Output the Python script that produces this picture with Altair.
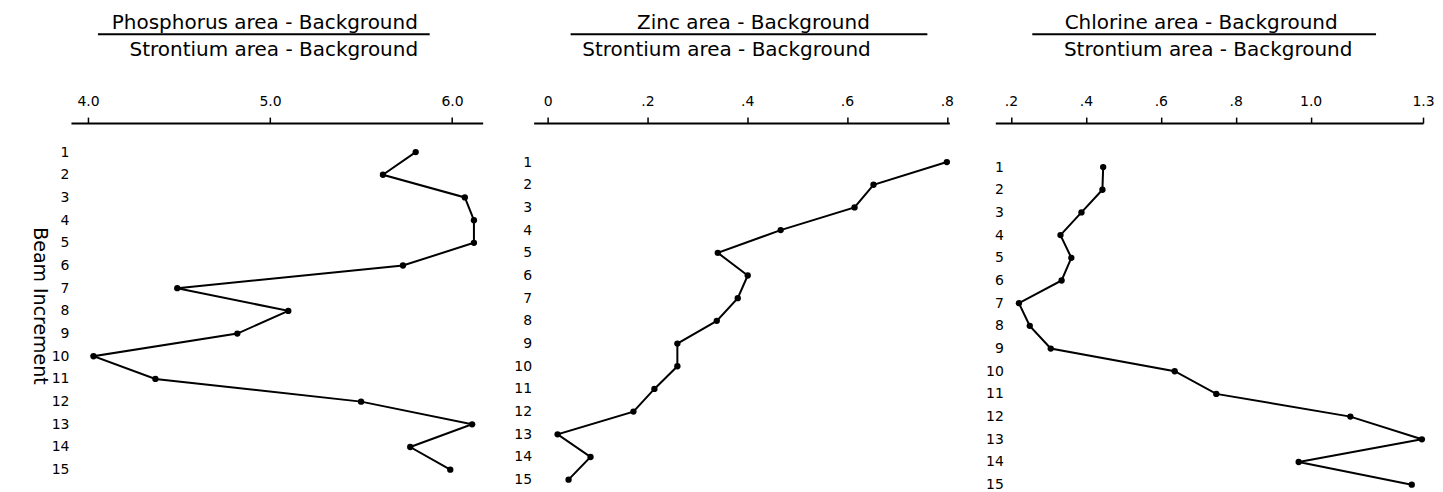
import altair as alt
import pandas as pd

increments = list(range(1, 16))
phosphorus = [5.80, 5.62, 6.07, 6.12, 6.12, 5.73, 4.49, 5.10, 4.82, 4.03, 4.37, 5.50, 6.11, 5.77, 5.99]
zinc = [0.80, 0.653, 0.615, 0.467, 0.341, 0.401, 0.381, 0.339, 0.26, 0.26, 0.214, 0.172, 0.020, 0.086, 0.042]
chlorine = [0.446, 0.444, 0.388, 0.332, 0.361, 0.335, 0.221, 0.250, 0.306, 0.637, 0.748, 1.106, 1.297, 0.968, 1.270]

numerators = ["Phosphorus area - Background", "Zinc area - Background", "Chlorine area - Background"]
denominator = "Strontium area - Background"
x_ticks = [[4.0, 5.0, 6.0], [0, 0.2, 0.4, 0.6, 0.8], [0.2, 0.4, 0.6, 0.8, 1.0, 1.3]]
y_title = "Beam Increment"

TITLE_FONT = "DejaVu Sans"
LABEL_FONT = "DejaVu Sans"
H = 365


def panel(values, num, ticks, xdomain, ydomain, width, label_expr,
          num_x, bar_x, den_x, ytitle, y_offset, y_label_pad):
    df = pd.DataFrame({"inc": increments, "ratio": values})
    yaxis_kw = dict(values=increments, format="d", domain=False, ticks=False, grid=False,
                    labelPadding=y_label_pad, offset=y_offset, labelFontSize=14,
                    labelFont=LABEL_FONT, labelColor="black")
    if ytitle:
        yaxis_kw.update(title=ytitle, titleAngle=90, titleBaseline="top", titleFontSize=19,
                        titleFont=TITLE_FONT, titleFontWeight="normal", titlePadding=3,
                        titleColor="black")
    else:
        yaxis_kw.update(title=None)
    x = alt.X("ratio:Q",
              scale=alt.Scale(domain=xdomain, nice=False, zero=False),
              axis=alt.Axis(orient="top", values=ticks, labelExpr=label_expr, title=None,
                            grid=False, domainWidth=2, domainColor="black", tickColor="black",
                            tickWidth=1.5, tickSize=6, labelPadding=9, labelFlush=False,
                            labelOverlap=False, labelFontSize=14, labelFont=LABEL_FONT,
                            labelColor="black"))
    y = alt.Y("inc:Q", scale=alt.Scale(domain=ydomain, reverse=True, nice=False, zero=False),
              axis=alt.Axis(**yaxis_kw))
    base = alt.Chart(df)
    line = base.mark_line(color="black", strokeWidth=2).encode(x=x, y=y, order="inc:Q")
    pts = base.mark_circle(color="black", size=40, opacity=1).encode(x=x, y=y)

    tdf = pd.DataFrame({"num": [num], "den": [denominator]})
    tb = alt.Chart(tdf)
    num_t = tb.mark_text(font=TITLE_FONT, fontSize=20, color="black", align="center",
                         baseline="middle").encode(text="num:N", x=alt.value(num_x), y=alt.value(-100))
    bar = tb.mark_rule(color="black", strokeWidth=2).encode(
        x=alt.value(bar_x[0]), x2=alt.value(bar_x[1]), y=alt.value(-89))
    den_t = tb.mark_text(font=TITLE_FONT, fontSize=20, color="black", align="center",
                         baseline="middle").encode(text="den:N", x=alt.value(den_x), y=alt.value(-73))
    return alt.layer(line, pts, num_t, bar, den_t).properties(width=width, height=H)


dec_expr = "datum.value == 0 ? '0' : (datum.value < 1 ? replace(format(datum.value, '.1f'), '0.', '.') : format(datum.value, '.1f'))"

p1 = panel(phosphorus, numerators[0], x_ticks[0], [3.906, 6.168], [-0.278, 15.80], 412,
           "format(datum.value, '.1f')", 194, (27, 359), 203, y_title, 0, 2)
p2 = panel(zinc, numerators[1], x_ticks[1], [-0.028, 0.805], [-0.718, 15.36], 416,
           dec_expr, 220, (37, 394), 193, None, 0, 2)
p3 = panel(chlorine, numerators[2], x_ticks[2], [0.158, 1.30], [-0.938, 15.14], 428,
           dec_expr, 206, (37, 381), 213, None, -10, 2)

chart = alt.hconcat(p1, p2, p3, spacing=31).properties(
    padding={"left": 21, "top": 5, "right": 0, "bottom": 0},
    background="white",
).configure_view(strokeWidth=0, stroke="transparent")

chart.save("out.html", embed_options={"renderer": "svg", "actions": False})
